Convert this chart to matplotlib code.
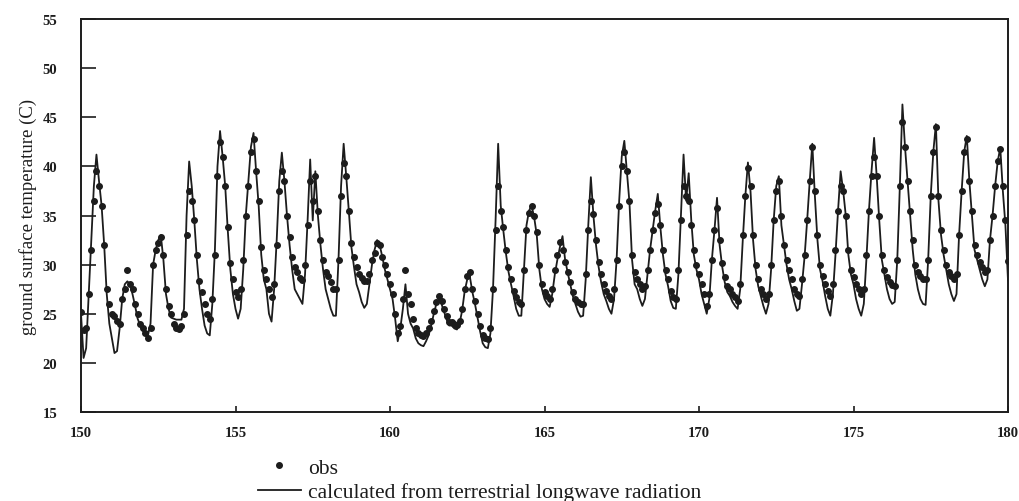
import numpy as np
import matplotlib
matplotlib.use("Agg")
import matplotlib.pyplot as plt
from matplotlib.lines import Line2D

# ---------------- data ----------------
days = list(range(150, 180))
hours = [0, 2, 4, 6, 8, 10, 12, 14, 16, 18, 20, 22]

# observed ground surface temperature (C), 2-hourly, one row per day
obs_150_159 = [
    [25.2, 23.3, 23.5, 27.0, 31.5, 36.5, 39.5, 38.0, 36.0, 32.0, 27.5, 26.0],
    [25.0, 24.8, 24.3, 24.0, 26.5, 27.5, 29.5, 28.0, 27.5, 26.0, 25.0, 24.0],
    [23.5, 23.0, 22.5, 23.5, 30.0, 31.5, 32.2, 32.8, 31.0, 27.5, 25.8, 25.0],
    [24.0, 23.5, 23.4, 23.8, 25.0, 33.0, 37.5, 36.5, 34.5, 31.0, 28.3, 27.2],
    [26.0, 25.0, 24.5, 26.5, 31.0, 39.0, 42.5, 41.0, 38.0, 33.8, 30.2, 28.5],
    [27.2, 26.7, 27.5, 30.5, 35.0, 38.0, 41.5, 42.8, 39.5, 36.5, 31.8, 29.5],
    [28.5, 27.5, 26.7, 28.0, 32.0, 37.5, 39.5, 38.5, 35.0, 32.8, 30.8, 29.8],
    [29.2, 28.6, 28.4, 30.0, 34.0, 38.5, 36.5, 39.0, 35.5, 32.5, 30.5, 29.3],
    [28.8, 28.2, 27.5, 27.5, 30.5, 37.0, 40.3, 39.0, 35.5, 32.2, 30.8, 29.8],
    [29.0, 28.6, 28.3, 28.3, 29.0, 30.5, 31.2, 32.2, 32.0, 30.8, 30.0, 29.0],
]
obs_160_169 = [
    [28.0, 27.0, 25.0, 23.0, 23.8, 26.5, 29.5, 27.0, 26.0, 24.5, 23.5, 23.0],
    [22.8, 22.7, 23.0, 23.5, 24.3, 25.3, 26.2, 26.8, 26.3, 25.5, 24.8, 24.2],
    [24.2, 24.0, 23.9, 24.3, 25.5, 27.5, 28.8, 29.2, 27.5, 26.3, 25.0, 23.8],
    [22.8, 22.5, 22.4, 23.5, 27.5, 33.5, 38.0, 35.5, 33.8, 31.5, 29.8, 28.5],
    [27.3, 26.7, 26.2, 26.0, 29.5, 33.5, 35.3, 36.0, 35.0, 33.3, 30.0, 28.0],
    [27.2, 26.8, 26.5, 27.5, 29.5, 31.0, 32.3, 31.5, 30.3, 29.3, 28.2, 27.2],
    [26.5, 26.2, 26.0, 26.0, 29.0, 33.5, 36.5, 35.2, 32.5, 30.3, 29.0, 28.0],
    [27.3, 26.8, 26.5, 27.5, 30.5, 36.0, 40.0, 41.5, 39.5, 36.5, 31.0, 29.2],
    [28.5, 28.0, 27.5, 27.8, 29.5, 31.5, 33.5, 35.3, 36.2, 34.0, 31.5, 29.5],
    [28.5, 27.3, 26.7, 26.5, 29.5, 34.5, 38.0, 37.0, 36.5, 34.0, 31.5, 30.0],
]
obs_170_179 = [
    [29.0, 28.0, 27.0, 25.8, 27.0, 30.5, 33.5, 35.8, 32.5, 30.2, 28.7, 27.8],
    [27.5, 27.0, 26.7, 26.3, 28.0, 33.0, 37.0, 39.8, 38.0, 33.0, 30.0, 28.5],
    [27.5, 27.0, 26.5, 27.0, 30.0, 34.5, 37.5, 38.5, 35.0, 32.0, 30.5, 29.5],
    [28.5, 27.5, 27.0, 26.8, 28.5, 31.0, 34.5, 38.5, 42.0, 37.5, 33.0, 30.0],
    [28.8, 28.0, 27.3, 26.8, 28.0, 31.5, 35.5, 38.0, 37.5, 35.0, 31.5, 29.5],
    [28.7, 28.0, 27.5, 27.0, 27.5, 31.0, 35.5, 39.0, 41.0, 39.0, 35.0, 31.0],
    [29.5, 28.7, 28.2, 27.9, 27.8, 30.5, 38.0, 44.5, 42.0, 38.5, 35.5, 32.5],
    [30.0, 29.3, 28.8, 28.5, 28.5, 30.5, 37.0, 41.5, 44.0, 37.0, 33.5, 31.5],
    [30.0, 29.3, 28.8, 28.5, 29.0, 33.0, 37.5, 41.5, 42.8, 38.5, 35.5, 32.0],
    [31.0, 30.3, 29.8, 29.3, 29.5, 32.5, 35.0, 38.0, 40.5, 41.8, 38.0, 34.5],
]
obs_end = 30.4  # value at day 180.0

# calculated from terrestrial longwave radiation (C), 2-hourly
calc_150_159 = [
    [25.0, 20.5, 21.5, 27.0, 32.5, 38.0, 41.2, 38.5, 36.0, 32.0, 27.0, 24.0],
    [22.5, 21.0, 21.2, 23.5, 26.5, 28.0, 28.3, 28.0, 27.0, 25.8, 24.5, 23.8],
    [23.3, 23.0, 22.8, 24.0, 30.0, 31.5, 32.5, 33.0, 30.5, 27.0, 25.5, 24.6],
    [24.5, 24.4, 24.4, 24.4, 25.5, 35.0, 40.5, 38.0, 34.5, 30.5, 27.5, 25.5],
    [23.8, 23.0, 22.8, 26.0, 31.5, 40.0, 43.6, 41.0, 38.0, 33.5, 29.5, 27.0],
    [25.5, 24.5, 25.5, 29.5, 35.0, 38.5, 42.0, 43.4, 39.5, 36.0, 31.0, 28.5],
    [27.5, 25.0, 24.2, 27.5, 32.5, 38.5, 41.4, 38.5, 35.0, 32.0, 29.5, 27.5],
    [27.0, 26.5, 26.0, 29.0, 34.5, 40.7, 34.5, 39.5, 35.0, 32.0, 29.5, 27.5],
    [26.5, 25.5, 24.8, 24.8, 30.5, 38.0, 42.3, 39.0, 35.5, 31.8, 29.8, 28.0],
    [27.2, 26.2, 25.6, 26.0, 28.0, 30.0, 31.5, 32.5, 32.0, 30.8, 29.5, 28.5],
]
calc_160_169 = [
    [27.5, 26.5, 24.5, 22.2, 23.5, 25.5, 28.0, 25.0, 24.0, 23.5, 22.5, 22.0],
    [21.8, 21.7, 22.2, 22.8, 23.8, 25.0, 26.0, 26.5, 26.0, 25.2, 24.4, 23.8],
    [23.8, 23.5, 23.4, 24.0, 25.3, 27.3, 28.5, 28.8, 27.2, 26.0, 24.6, 23.2],
    [22.0, 21.6, 21.5, 23.0, 27.5, 34.5, 42.3, 36.0, 33.5, 31.2, 29.3, 28.0],
    [26.8, 25.5, 24.8, 24.8, 29.5, 34.0, 35.5, 36.0, 34.8, 33.0, 29.5, 27.5],
    [26.5, 26.0, 25.7, 27.0, 29.0, 30.5, 31.8, 32.9, 30.5, 29.2, 28.0, 26.8],
    [26.0, 25.2, 24.7, 24.8, 28.5, 34.0, 38.9, 35.0, 32.0, 29.8, 28.2, 27.0],
    [26.3, 25.5, 25.0, 26.5, 30.5, 36.5, 41.0, 42.6, 39.5, 36.3, 30.5, 28.0],
    [27.5, 26.5, 25.8, 26.5, 29.0, 31.5, 33.5, 35.5, 37.2, 33.8, 31.0, 29.0],
    [27.8, 26.3, 25.6, 25.5, 29.0, 35.0, 41.2, 36.5, 39.3, 34.5, 31.0, 29.5],
]
calc_170_179 = [
    [28.5, 27.0, 26.0, 25.0, 26.5, 30.5, 33.5, 36.8, 32.0, 29.8, 28.2, 27.2],
    [26.8, 26.2, 25.8, 25.5, 27.5, 32.5, 37.0, 40.4, 37.5, 32.5, 29.5, 27.8],
    [26.8, 25.8, 25.0, 26.0, 29.5, 34.5, 38.0, 39.0, 34.0, 32.0, 30.0, 28.5],
    [27.5, 26.3, 25.3, 25.5, 28.0, 30.8, 34.5, 38.5, 42.3, 37.0, 32.5, 29.5],
    [28.3, 26.8, 25.5, 24.8, 27.0, 31.0, 35.5, 39.5, 37.5, 35.0, 31.0, 29.0],
    [28.0, 26.5, 25.5, 24.8, 26.0, 30.5, 35.5, 39.5, 42.9, 39.0, 34.5, 30.5],
    [29.0, 27.5, 26.5, 26.0, 26.2, 30.5, 38.0, 46.3, 42.0, 38.5, 35.0, 31.5],
    [29.0, 27.5, 26.5, 26.0, 25.9, 30.5, 37.0, 41.5, 44.3, 36.5, 33.0, 31.0],
    [29.5, 28.0, 27.0, 26.3, 27.0, 33.0, 37.5, 41.5, 43.1, 38.5, 35.0, 31.5],
    [30.5, 29.5, 28.5, 27.8, 28.5, 32.5, 35.0, 38.0, 40.5, 41.9, 37.5, 34.0],
]
calc_end = 28.4  # value at day 180.0

x_ticks = [150, 155, 160, 165, 170, 175, 180]
y_ticks = [15, 20, 25, 30, 35, 40, 45, 50, 55]
y_label = "ground surface temperature (C)"
legend_obs = "obs"
legend_calc = "calculated from terrestrial longwave radiation"

# ---------------- build series ----------------
obs_rows = obs_150_159 + obs_160_169 + obs_170_179
calc_rows = calc_150_159 + calc_160_169 + calc_170_179
t = np.array([d + h / 24.0 for d in days for h in hours] + [days[-1] + 1])
obs = np.array([v for r in obs_rows for v in r] + [obs_end])
calc = np.array([v for r in calc_rows for v in r] + [calc_end])

# ---------------- figure ----------------
plt.rcParams['font.family'] = ['Liberation Serif', 'DejaVu Serif']
ink = '#1c1c1c'
fig = plt.figure(figsize=(10.2, 5.02), dpi=100)
ax = fig.add_axes([81 / 1020, 1 - 413 / 502, (1008 - 81) / 1020, (413 - 20) / 502])

ax.plot(t, calc, color=ink, lw=1.3, zorder=2)
ax.plot(t, obs, linestyle='none', marker='o', ms=4.0, color=ink,
        mec=ink, zorder=3)

ax.set_xlim(150, 180)
ax.set_ylim(15, 55)
ax.set_xticks(x_ticks)
ax.set_yticks(y_ticks)
ax.tick_params(axis='y', direction='in', length=11, width=1.2,
               labelsize=10.5, pad=17, colors=ink)
ax.tick_params(axis='x', direction='in', length=4, width=1.2,
               labelsize=10.5, pad=10, colors=ink)
for lab in ax.get_xticklabels() + ax.get_yticklabels():
    lab.set_fontweight('bold')
for s in ax.spines.values():
    s.set_linewidth(1.4)
    s.set_color(ink)
ax.set_ylabel(y_label, fontsize=13.5, color=ink, labelpad=4)

# legend below the axes
h_obs = Line2D([], [], linestyle='none', marker='o', ms=4.0, color=ink)
h_calc = Line2D([], [], color=ink, lw=1.3)
leg = fig.legend([h_obs, h_calc], [legend_obs, legend_calc],
                 loc='upper left', bbox_to_anchor=(247 / 1020, 1 - 448 / 502),
                 frameon=False, fontsize=15.5, handlelength=2.0,
                 handletextpad=0.35, labelspacing=0.2, borderpad=0)
for txt in leg.get_texts():
    txt.set_color(ink)

fig.savefig("out.png", dpi=100, facecolor='white')
